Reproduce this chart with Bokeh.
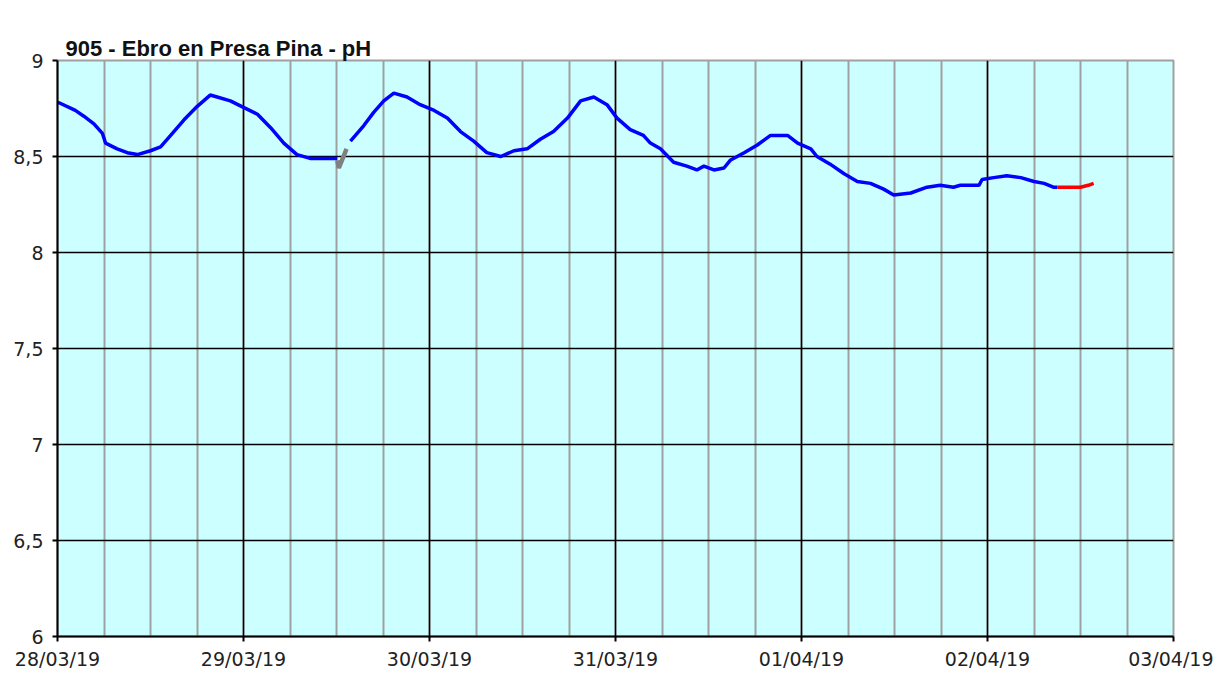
import datetime as dt
from bokeh.plotting import figure
from bokeh.models import FixedTicker, DatetimeTickFormatter, Range1d, Title
from bokeh.embed import file_html
from bokeh.resources import INLINE

# hours since 28/03/19 00:00 and pH values
blue_h = [0.0, 0.2, 2.3, 3.4, 4.7, 5.8, 6.2, 7.7, 9.0, 10.3, 12.0, 13.3, 14.6, 16.3, 18.0, 19.7,
          20.6, 22.3, 23.8, 25.8, 27.5, 29.2, 30.9, 32.6, 36.1]
blue_v = [8.78, 8.78, 8.74, 8.71, 8.67, 8.62, 8.57, 8.54, 8.52, 8.51, 8.53, 8.55, 8.61, 8.69, 8.76, 8.82,
          8.81, 8.79, 8.76, 8.72, 8.65, 8.57, 8.51, 8.49, 8.49]
gray_h = [36.1, 36.3, 37.3]
gray_v = [8.48, 8.44, 8.54]
blue2_h = [37.8, 39.5, 40.8, 42.1, 43.4, 45.1, 46.8, 48.6, 50.3, 52.0, 53.7, 55.4, 57.2, 58.9, 60.6,
           62.3, 64.0, 65.8, 67.5, 69.2, 70.9, 72.2, 73.9, 75.6, 76.5, 77.8, 79.5, 81.2, 82.5, 83.4,
           84.7, 86.0, 86.8, 88.6, 90.3, 92.0, 94.2, 95.5, 97.2, 98.0, 99.7, 101.5, 103.2, 104.9,
           106.6, 107.9, 110.1, 112.2, 113.9, 115.6, 116.5, 118.9, 119.3, 120.8, 122.5, 124.3,
           126.0, 127.3, 128.5, 129.0]
blue2_v = [8.58, 8.66, 8.73, 8.79, 8.83, 8.81, 8.77, 8.74, 8.70, 8.63, 8.58, 8.52, 8.50, 8.53, 8.54,
           8.59, 8.63, 8.70, 8.79, 8.81, 8.77, 8.70, 8.64, 8.61, 8.57, 8.54, 8.47, 8.45, 8.43, 8.45,
           8.43, 8.44, 8.48, 8.52, 8.56, 8.61, 8.61, 8.57, 8.54, 8.50, 8.46, 8.41, 8.37, 8.36,
           8.33, 8.30, 8.31, 8.34, 8.35, 8.34, 8.35, 8.35, 8.38, 8.39, 8.40, 8.39,
           8.37, 8.36, 8.34, 8.34]
red_h = [129.0, 132.0, 133.0, 133.7]
red_v = [8.34, 8.34, 8.35, 8.36]

title_text = "905 - Ebro en Presa Pina - pH"
day_labels = ["28/03/19", "29/03/19", "30/03/19", "31/03/19", "01/04/19", "02/04/19", "03/04/19"]
y_ticks = [6, 6.5, 7, 7.5, 8, 8.5, 9]
y_labels = ["6", "6,5", "7", "7,5", "8", "8,5", "9"]

start = dt.datetime(2019, 3, 28)

def to_dt(hours):
    return [start + dt.timedelta(hours=h) for h in hours]

def ms(d):
    return (d - dt.datetime(1970, 1, 1)).total_seconds() * 1000.0

W, H = 1213, 672
p = figure(width=W, height=H, output_backend="svg", toolbar_location=None,
           x_axis_type="datetime", background_fill_color="#CCFFFF",
           border_fill_color="white", min_border_left=57, min_border_right=W - 1173,
           min_border_top=60, min_border_bottom=H - 636)
p.x_range = Range1d(start, start + dt.timedelta(days=6))
p.y_range = Range1d(6, 9)

major = [ms(start + dt.timedelta(days=i)) for i in range(7)]
minor = [ms(start + dt.timedelta(hours=6 * i)) for i in range(25)]
p.xaxis.ticker = FixedTicker(ticks=major, minor_ticks=minor)
fmt = "%d/%m/%y"
p.xaxis.formatter = DatetimeTickFormatter(microseconds=fmt, milliseconds=fmt, seconds=fmt,
                                          minsec=fmt, minutes=fmt, hourmin=fmt, hours=fmt,
                                          days=fmt, months=fmt, years=fmt)
p.yaxis.ticker = FixedTicker(ticks=y_ticks)
p.yaxis.major_label_overrides = {t: l for t, l in zip(y_ticks, y_labels)}

for ax in (p.xaxis, p.yaxis):
    ax.axis_line_color = "black"
    ax.axis_line_width = 2
    ax.major_tick_line_color = "black"
    ax.major_tick_line_width = 2
    ax.major_tick_out = 5
    ax.major_tick_in = 0
    ax.minor_tick_line_color = None
    ax.major_label_text_font = "DejaVu Sans"
    ax.major_label_text_font_size = "19px"
    ax.major_label_text_color = "#222222"
p.xaxis.major_label_standoff = 6
p.yaxis.major_label_standoff = 9

p.xgrid.grid_line_color = "black"
p.xgrid.grid_line_width = 1.5
p.xgrid.minor_grid_line_color = "#A0A0A0"
p.xgrid.minor_grid_line_width = 2
p.ygrid.grid_line_color = "black"
p.ygrid.grid_line_width = 1.5
p.outline_line_color = "#A0A0A0"
p.outline_line_width = 2

p.line(to_dt(blue_h), blue_v, color="#0000FF", line_width=3.5)
p.line(to_dt(blue2_h), blue2_v, color="#0000FF", line_width=3.5)
p.line(to_dt(gray_h), gray_v, color="#808080", line_width=4.5)
p.line(to_dt(red_h), red_v, color="#FF0000", line_width=3.5)

# spacer panel next to the frame, then the real title above it
p.title.text = ""
p.add_layout(Title(text=".", text_font_size="10px", standoff=10, text_alpha=0), "above")
p.add_layout(Title(text=title_text, text_font="Liberation Sans",
                   text_font_size="22px", text_font_style="bold", align="left", offset=8,
                   standoff=0, text_color="#111111"), "above")

open("out.html", "w").write(file_html(p, INLINE))
